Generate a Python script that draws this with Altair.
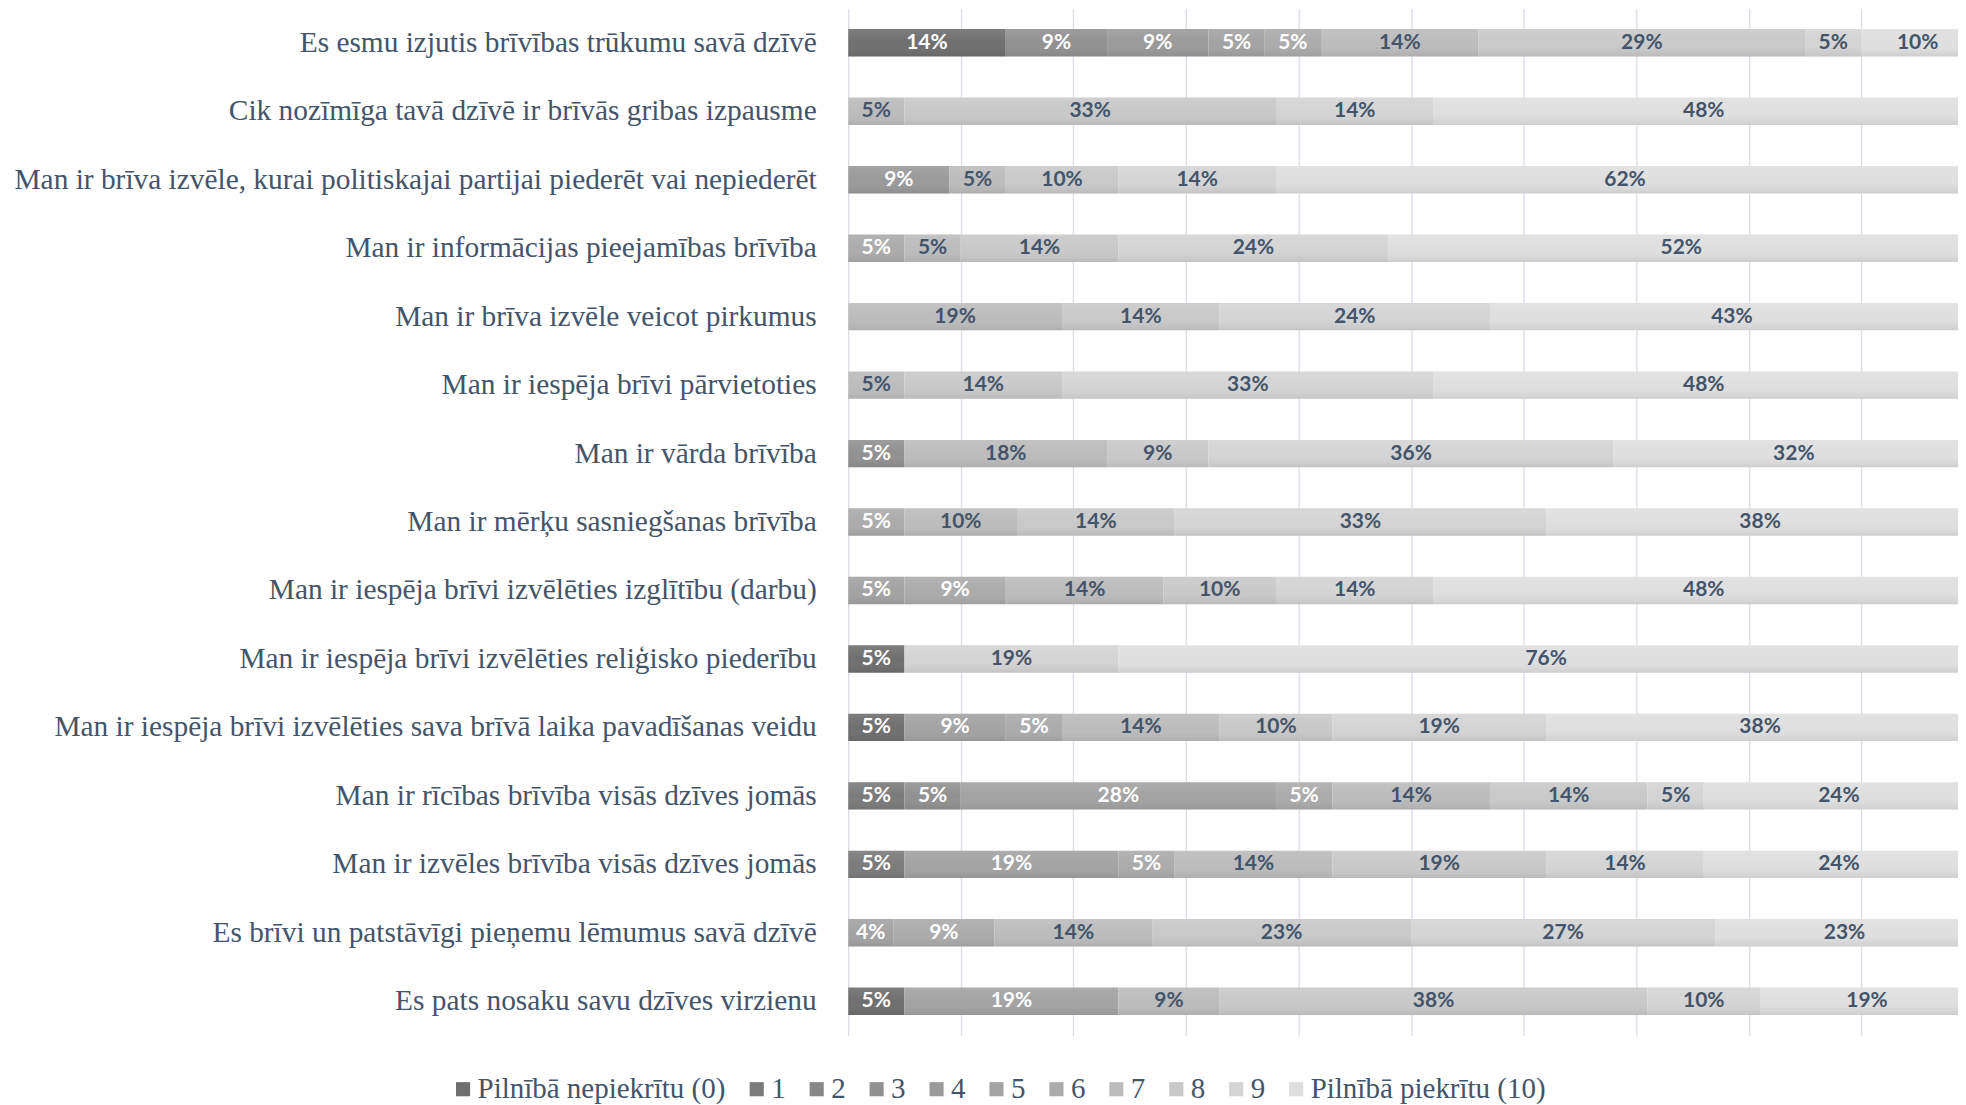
import altair as alt
import pandas as pd

statements = [
    "Es esmu izjutis brīvības trūkumu savā dzīvē",
    "Cik nozīmīga tavā dzīvē ir brīvās gribas izpausme",
    "Man ir brīva izvēle, kurai politiskajai partijai piederēt vai nepiederēt",
    "Man ir informācijas pieejamības brīvība",
    "Man ir brīva izvēle veicot pirkumus",
    "Man ir iespēja brīvi pārvietoties",
    "Man ir vārda brīvība",
    "Man ir mērķu sasniegšanas brīvība",
    "Man ir iespēja brīvi izvēlēties izglītību (darbu)",
    "Man ir iespēja brīvi izvēlēties reliģisko piederību",
    "Man ir iespēja brīvi izvēlēties sava brīvā laika pavadīšanas veidu",
    "Man ir rīcības brīvība visās dzīves jomās",
    "Man ir izvēles brīvība visās dzīves jomās",
    "Es brīvi un patstāvīgi pieņemu lēmumus savā dzīvē",
    "Es pats nosaku savu dzīves virzienu",
]

legend_labels = ["Pilnībā nepiekrītu (0)", "1", "2", "3", "4", "5", "6", "7", "8", "9",
                 "Pilnībā piekrītu (10)"]

palette = ["#6f6f6f", "#7b7b7b", "#878787", "#919191", "#9a9a9a", "#a3a3a3",
           "#ababab", "#bcbcbc", "#c9c9c9", "#d4d4d4", "#dfdfdf"]

# percentage per score 0..10 for each statement (same order as statements)
row01 = [14, 0, 0, 9, 9, 5, 5, 14, 29, 5, 10]
row02 = [0, 0, 0, 0, 0, 0, 0, 5, 33, 14, 48]
row03 = [0, 0, 0, 0, 9, 0, 0, 5, 10, 14, 62]
row04 = [0, 0, 0, 0, 0, 0, 5, 5, 14, 24, 52]
row05 = [0, 0, 0, 0, 0, 0, 0, 19, 14, 24, 43]
row06 = [0, 0, 0, 0, 0, 0, 0, 5, 14, 33, 48]
row07 = [0, 0, 0, 5, 0, 0, 0, 18, 9, 36, 32]
row08 = [0, 0, 0, 0, 0, 0, 5, 10, 14, 33, 38]
row09 = [0, 0, 0, 0, 0, 5, 9, 14, 10, 14, 48]
row10 = [5, 0, 0, 0, 0, 0, 0, 0, 0, 19, 76]
row11 = [5, 0, 0, 0, 0, 9, 5, 14, 10, 19, 38]
row12 = [0, 5, 0, 5, 0, 28, 5, 14, 14, 5, 24]
row13 = [0, 5, 0, 0, 0, 19, 5, 14, 19, 14, 24]
row14 = [0, 0, 0, 0, 0, 4, 9, 14, 23, 27, 23]
row15 = [5, 0, 0, 0, 0, 19, 0, 9, 38, 10, 19]

rows = [row01, row02, row03, row04, row05, row06, row07, row08, row09, row10,
        row11, row12, row13, row14, row15]

records = []
for s, vals in zip(statements, rows):
    for cat, v in enumerate(vals):
        if v > 0:
            records.append({"statement": s, "cat": cat, "legend": legend_labels[cat],
                            "value": v, "label": f"{v}%"})
df = pd.DataFrame(records)

X_MAX = 98.58
NAVY = "#44546A"

base = alt.Chart(df).transform_stack(
    stack="value", groupby=["statement"], as_=["x0", "x1"],
    sort=[alt.SortField("cat", order="ascending")]
).transform_calculate(mid="(datum.x0 + datum.x1) / 2")

y_enc = alt.Y("statement:N", sort=statements,
              scale=alt.Scale(paddingInner=0.6, paddingOuter=0.3),
              axis=alt.Axis(title=None, ticks=False, domain=False,
                            labelFont="Liberation Serif", labelFontSize=29.4,
                            labelColor=NAVY, labelPadding=32, labelLimit=1200))

x_scale = alt.Scale(domain=[0, X_MAX], nice=False, zero=True)

bars = base.mark_bar(clip=True).encode(
    x=alt.X("x0:Q", scale=x_scale,
            axis=alt.Axis(title=None, labels=False, ticks=False, domain=False,
                          grid=True, gridColor="#D9DEE7", gridWidth=1.3,
                          values=[0, 10, 20, 30, 40, 50, 60, 70, 80, 90])),
    x2="x1:Q",
    y=y_enc,
    color=alt.Color("legend:N",
                    scale=alt.Scale(domain=legend_labels, range=palette),
                    legend=alt.Legend(title=None, orient="none", legendX=-400, legendY=1067,
                                      direction="horizontal", columns=11,
                                      symbolType="square", symbolSize=200,
                                      symbolStrokeWidth=0, labelFont="Liberation Serif",
                                      labelFontSize=29, labelColor=NAVY,
                                      labelOffset=0, columnPadding=16, labelLimit=600)),
)

shade = base.mark_bar(
    clip=True,
    color=alt.Gradient(gradient="linear", x1=0, y1=0, x2=0, y2=1,
                       stops=[alt.GradientStop(color="rgba(255,255,255,0.10)", offset=0),
                              alt.GradientStop(color="rgba(255,255,255,0.0)", offset=0.5),
                              alt.GradientStop(color="rgba(0,0,0,0.08)", offset=1)]),
).encode(x=alt.X("x0:Q", scale=x_scale), x2="x1:Q", y=alt.Y("statement:N", sort=statements))

labels = base.mark_text(font="Lato", fontWeight="bold", fontSize=21, clip=True,
                        baseline="middle", align="center").encode(
    x=alt.X("mid:Q", scale=x_scale),
    y=alt.Y("statement:N", sort=statements),
    text="label:N",
    color=alt.condition("datum.cat <= 6", alt.value("#FFFFFF"), alt.value(NAVY)),
)

chart = alt.layer(bars, shade, labels).properties(
    width=1111, height=1028,
    padding={"left": 5, "top": 0, "right": 0, "bottom": 5},
).configure_view(strokeWidth=0)

chart.save("out.html", embed_options={"renderer": "svg", "actions": False})
